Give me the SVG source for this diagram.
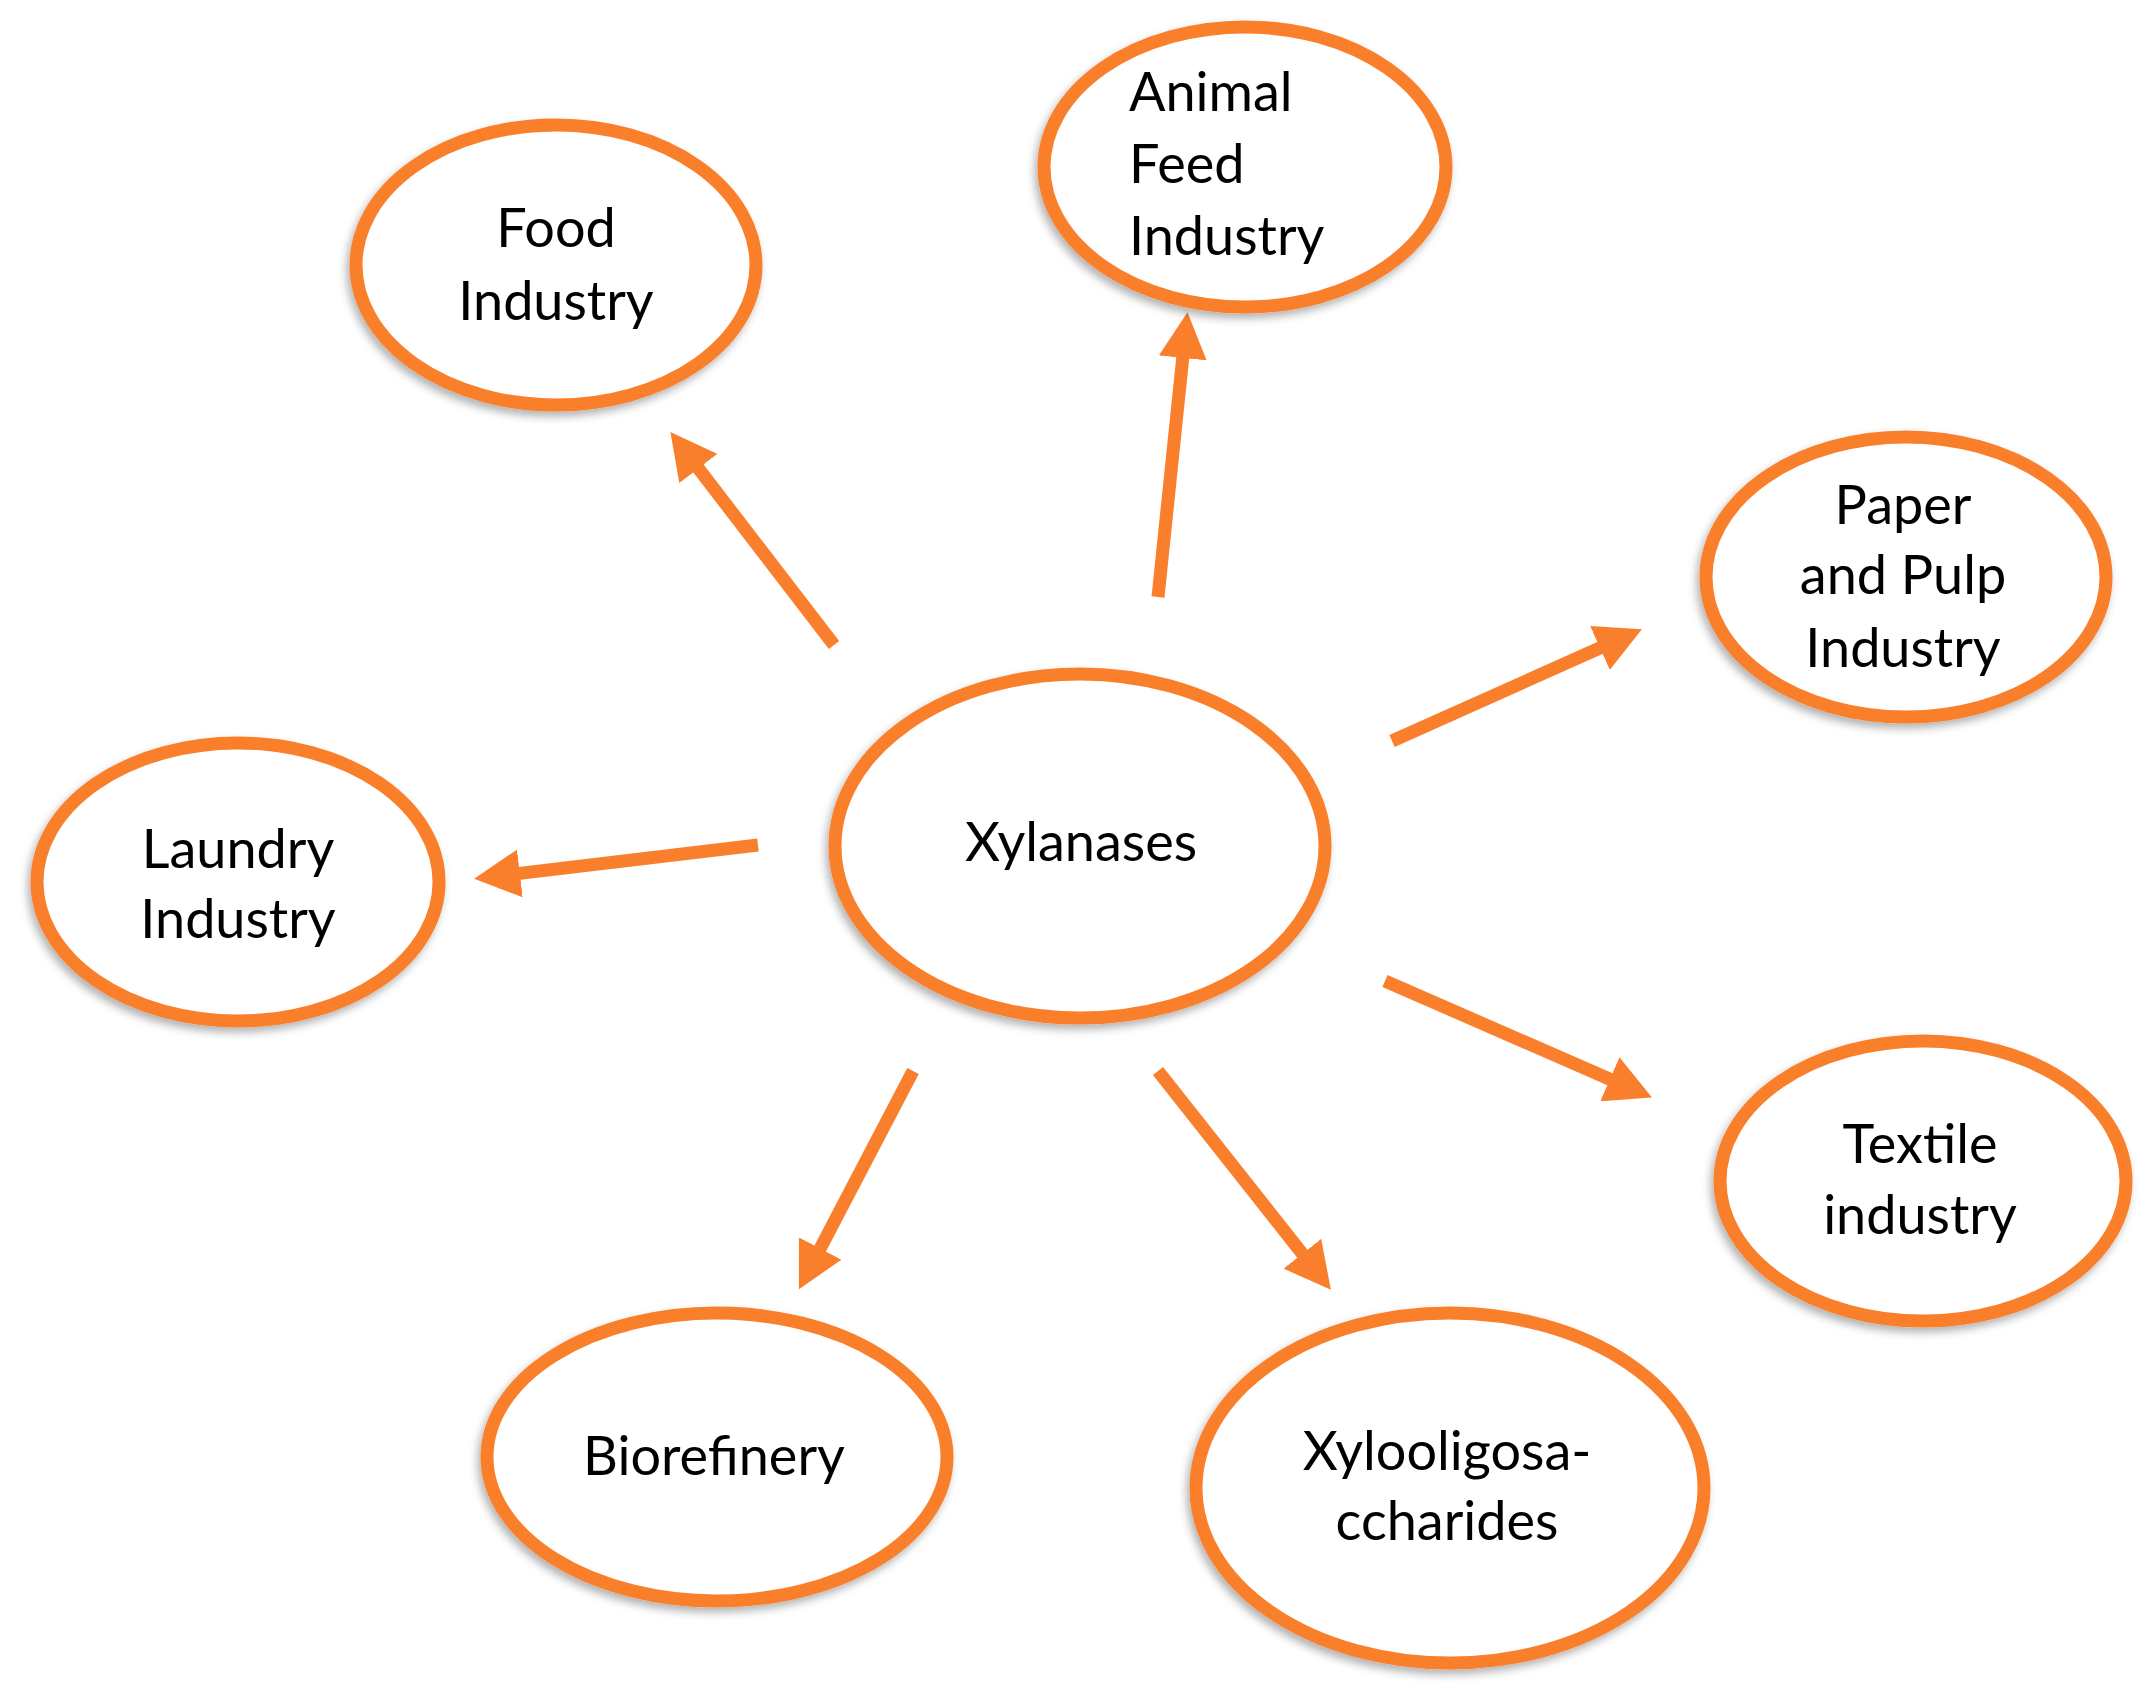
<svg xmlns="http://www.w3.org/2000/svg" width="2153" height="1702" viewBox="0 0 2153 1702">
<style>
.node ellipse{fill:#fff;stroke:#FA7F2C;stroke-width:13;filter:url(#sh)}
.node text{font-family:Lato,"Open Sans","Liberation Sans",sans-serif;font-size:54px;fill:#000;text-anchor:middle}
.node text.l{text-anchor:start}
.conn line{stroke:#FA7F2C;stroke-width:13;marker-end:url(#ah)}
</style>
<defs>
<filter id="sh" x="-10%" y="-10%" width="120%" height="125%">
<feDropShadow dx="-3" dy="5" stdDeviation="4" flood-color="#000" flood-opacity="0.3"/>
</filter>
<marker id="ah" markerUnits="userSpaceOnUse" viewBox="0 0 46 48" markerWidth="46" markerHeight="48" refX="22" refY="24" orient="auto">
<path d="M0,0 L46,24 L0,48 z" fill="#FA7F2C"/>
</marker>
</defs>
<rect width="2153" height="1702" fill="#fff"/>
<g class="conn">
<line x1="834" y1="645" x2="685" y2="451"/>
<line x1="1158" y1="597" x2="1185" y2="336"/>
<line x1="1392" y1="741" x2="1620" y2="639"/>
<line x1="758" y1="845" x2="498" y2="876"/>
<line x1="1385" y1="981" x2="1630" y2="1088"/>
<line x1="1158" y1="1071" x2="1316" y2="1271"/>
<line x1="913" y1="1071" x2="810" y2="1268"/>
</g>
<g id="food" class="node">
<ellipse cx="556" cy="265" rx="200" ry="140"/>
<text x="556" y="247">Food</text>
<text x="556" y="320">Industry</text>
</g>
<g id="animal" class="node">
<ellipse cx="1245" cy="167" rx="201" ry="140"/>
<text class="l" x="1129" y="111">Animal</text>
<text class="l" x="1129" y="183">Feed</text>
<text class="l" x="1129" y="255">Industry</text>
</g>
<g id="paper" class="node">
<ellipse cx="1906" cy="577" rx="200" ry="140"/>
<text x="1903" y="524">Paper</text>
<text x="1903" y="594">and Pulp</text>
<text x="1903" y="667">Industry</text>
</g>
<g id="laundry" class="node">
<ellipse cx="238" cy="882" rx="201" ry="139"/>
<text x="238" y="868">Laundry</text>
<text x="238" y="938">Industry</text>
</g>
<g id="xylanases" class="node">
<ellipse cx="1080" cy="846" rx="245" ry="172"/>
<text x="1081" y="861">Xylanases</text>
</g>
<g id="textile" class="node">
<ellipse cx="1923" cy="1181" rx="203" ry="140"/>
<text x="1920" y="1163">Textile</text>
<text x="1920" y="1234">industry</text>
</g>
<g id="biorefinery" class="node">
<ellipse cx="717" cy="1457" rx="230" ry="144"/>
<text x="714" y="1475">Biorefinery</text>
</g>
<g id="xos" class="node">
<ellipse cx="1450" cy="1488" rx="254" ry="175"/>
<text x="1447" y="1470">Xylooligosa-</text>
<text x="1447" y="1540">ccharides</text>
</g>
</svg>
